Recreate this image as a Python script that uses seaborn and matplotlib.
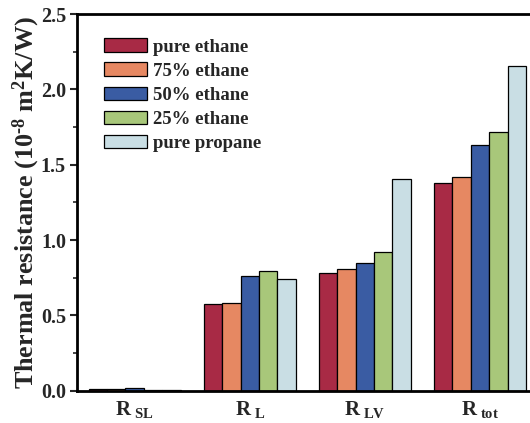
import matplotlib
matplotlib.use("Agg")
import matplotlib.pyplot as plt
import seaborn as sns
import pandas as pd

# Thermal resistance components for each working fluid
components = [r"$\mathbf{R}_{\ \mathbf{SL}}$", r"$\mathbf{R}_{\ \mathbf{L}}$",
              r"$\mathbf{R}_{\ \mathbf{LV}}$", r"$\mathbf{R}_{\ \mathbf{tot}}$"]
fluids = ["pure ethane", "75% ethane", "50% ethane", "25% ethane", "pure propane"]
pure_ethane = [0.012, 0.576, 0.780, 1.377]
ethane_75 = [0.010, 0.584, 0.810, 1.417]
ethane_50 = [0.018, 0.762, 0.846, 1.629]
ethane_25 = [0.004, 0.793, 0.919, 1.716]
pure_propane = [0.004, 0.740, 1.408, 2.156]
colors = ["#A82A45", "#E68862", "#3A5CA3", "#A8C77A", "#C9DEE4"]

series = [pure_ethane, ethane_75, ethane_50, ethane_25, pure_propane]
rows = []
for fluid, vals in zip(fluids, series):
    for comp, v in zip(components, vals):
        rows.append({"component": comp, "fluid": fluid, "value": v})
df = pd.DataFrame(rows)

sns.set_style("ticks")
plt.rcParams["font.family"] = ["Liberation Serif", "DejaVu Serif"]
plt.rcParams["font.weight"] = "bold"
plt.rcParams["mathtext.fontset"] = "custom"
plt.rcParams["mathtext.rm"] = "Liberation Serif:bold"
plt.rcParams["mathtext.bf"] = "Liberation Serif:bold"
plt.rcParams["mathtext.it"] = "Liberation Serif:bold:italic"

fig = plt.figure(figsize=(5.30, 4.23), dpi=100)
ax = fig.add_axes([0.1453, 0.0764, 0.869, 0.8905])

sns.barplot(data=df, x="component", y="value", hue="fluid",
            order=components, hue_order=fluids, palette=colors,
            width=0.8, edgecolor="black", linewidth=0.9, saturation=1,
            ax=ax)

ax.set_xlim(-0.5, 3.5)
ax.set_ylim(0, 2.5)
ax.set_yticks([0.0, 0.5, 1.0, 1.5, 2.0, 2.5])
ax.set_yticklabels(["0.0", "0.5", "1.0", "1.5", "2.0", "2.5"])
ax.set_yticks([0.25, 0.75, 1.25, 1.75, 2.25], minor=True)
ax.tick_params(axis="y", which="major", direction="out", length=5, width=1.5,
               labelsize=14.5, pad=3)
ax.tick_params(axis="y", which="minor", direction="out", length=3, width=1.2)
ax.tick_params(axis="x", length=0, labelsize=15, pad=6)
for lbl in ax.get_yticklabels():
    lbl.set_fontweight("bold")

ax.set_xlabel("")
ax.set_ylabel(r"Thermal resistance (10$^{\text{-8}}$ m$^{\mathbf{2}}$K/W)",
              fontsize=18.8, fontweight="bold")
ax.yaxis.set_label_coords(-0.076, 0.5)

for side in ["left", "bottom", "top"]:
    ax.spines[side].set_linewidth(2.0)
    ax.spines[side].set_color("black")
ax.spines["top"].set_visible(True)
ax.spines["right"].set_visible(False)

leg = ax.legend(loc="upper left", bbox_to_anchor=(0.03, 0.97), frameon=False,
                prop={"family": "Liberation Serif", "weight": "bold", "size": 13.5},
                handlelength=2.3, handleheight=0.7, labelspacing=0.37,
                handletextpad=0.3, borderaxespad=0.3)

fig.savefig("out.png", dpi=100)
